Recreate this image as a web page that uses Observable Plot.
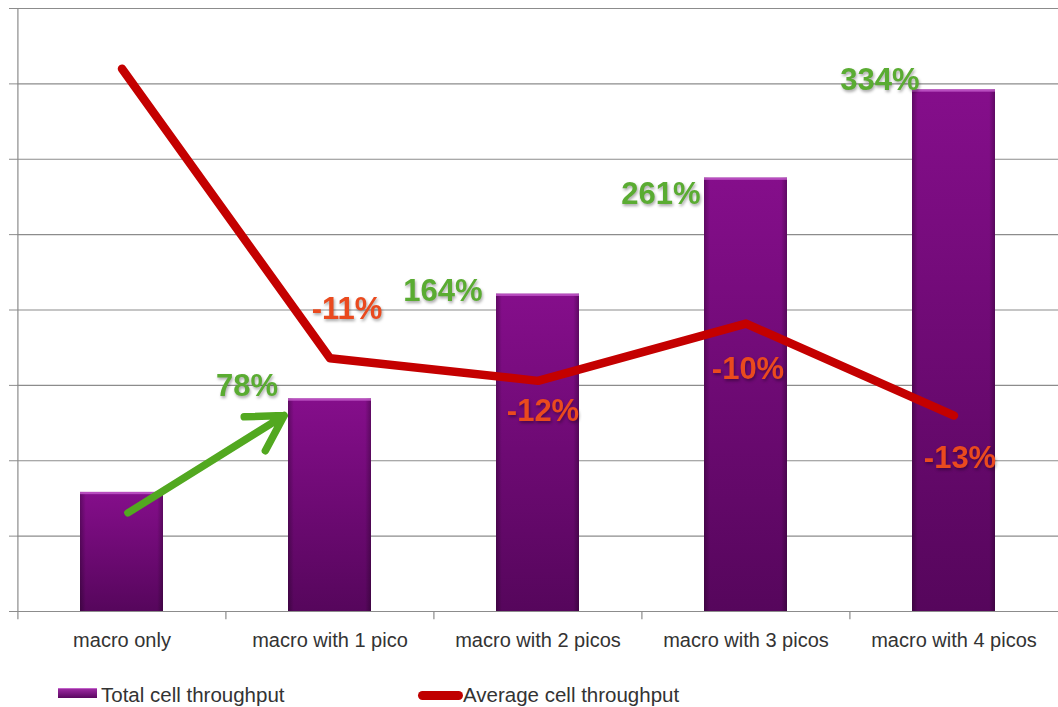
<!DOCTYPE html>
<html><head><meta charset="utf-8">
<script src="https://cdn.jsdelivr.net/npm/d3@7"></script>
<script src="https://cdn.jsdelivr.net/npm/@observablehq/plot@0.6"></script>
<style>
body{margin:0;background:#fff;font-family:"Liberation Sans",Arial,sans-serif;}
#legend{position:relative;height:47px;width:1058px;color:#333;font-size:20.5px;line-height:20px;}
#legend .sw{position:absolute;}
#legend .lb{position:absolute;white-space:nowrap;}
</style></head><body>
<svg width="0" height="0" style="position:absolute"><defs>
<linearGradient id="barV" x1="0" y1="0" x2="0" y2="1">
<stop offset="0" stop-color="#850e8b"/><stop offset="1" stop-color="#56065c"/></linearGradient>
<linearGradient id="barH" x1="0" y1="0" x2="1" y2="0">
<stop offset="0" stop-color="#000" stop-opacity="0.28"/><stop offset="0.07" stop-color="#000" stop-opacity="0"/>
<stop offset="0.93" stop-color="#000" stop-opacity="0"/><stop offset="1" stop-color="#000" stop-opacity="0.28"/></linearGradient>
</defs></svg>
<div id="chart"></div>
<div id="legend">
  <div class="sw" style="left:58px;top:28px;width:39px;height:10px;background:linear-gradient(#9a2aa0,#5a0760);border-top:1px solid #c060c8;box-sizing:border-box"></div>
  <span class="lb" style="left:101px;top:25px">Total cell throughput</span>
  <div class="sw" style="left:418px;top:31px;width:45px;height:9px;border-radius:5px;background:#c00000"></div>
  <span class="lb" style="left:463px;top:25px">Average cell throughput</span>
</div>
<script>
// ---- data (chart units: one gridline step = 1) ----
const categories = ["macro only", "macro with 1 pico", "macro with 2 picos", "macro with 3 picos", "macro with 4 picos"];
const totalThroughput = [1.58, 2.82, 4.21, 5.75, 6.92];
const averageThroughput = [7.2, 3.36, 3.06, 3.82, 2.60];
const gainLabels = ["78%", "164%", "261%", "334%"];       // vs macro only, categories 2..5
const avgChangeLabels = ["-11%", "-12%", "-10%", "-13%"]; // categories 2..5
const yTicks = [0, 1, 2, 3, 4, 5, 6, 7, 8];
const arrowAnnotation = [{from: "macro only", to: "macro with 1 pico", y1: 1.26, y2: 2.98}];

const totals = categories.map((c, i) => ({cat: c, v: totalThroughput[i]}));
const avgs = categories.map((c, i) => ({cat: c, v: averageThroughput[i]}));

// ---- layout ----
const W = 1058, H = 660, ML = 17, MR = 0, MT = 8, MB = 49;
const step = (W - ML - MR) / categories.length;
const greenOff = [[-83, -13], [-95, -3], [-85, 16], [-74, -10]];
const redOff = [[17, -49], [5, 30], [2, 46], [6, 43]];

const labelFont = {fontSize: 31, fontWeight: "bold", fontFamily: "Liberation Sans, Arial, sans-serif"};

const chart = Plot.plot({
  width: W, height: H,
  marginLeft: ML, marginRight: MR, marginTop: MT, marginBottom: MB,
  style: {fontFamily: "Liberation Sans, Arial, sans-serif", background: "#fff"},
  x: {type: "band", domain: categories, paddingInner: 0.6, paddingOuter: 0.3, label: null},
  y: {domain: [0, 8], label: null},
  marks: [
    Plot.ruleY(yTicks, {stroke: "#8c8c8c", strokeWidth: 1.2}),
    Plot.axisY({ticks: yTicks, tickSize: 8, tickFormat: () => "", stroke: "#8c8c8c", label: null}),
    Plot.ruleX([categories[0]], {dx: -step / 2, y1: -0.11, y2: 8, stroke: "#8c8c8c", strokeWidth: 1.2}),
    Plot.ruleX(categories.slice(1), {dx: -step / 2, y1: 0, y2: -0.11, stroke: "#8c8c8c", strokeWidth: 1.2}),
    Plot.axisX({tickSize: 0, tickPadding: 21, fontSize: 20, fill: "#333", label: null}),
    Plot.barY(totals, {x: "cat", y: "v", fill: "url(#barV)"}),
    Plot.barY(totals, {x: "cat", y: "v", fill: "url(#barH)"}),
    Plot.barY(totals, {x: "cat", y1: d => d.v - 0.03, y2: "v", fill: "#c45ccc", fillOpacity: 0.8}),
    Plot.lineY(avgs, {x: "cat", y: "v", stroke: "#c40000", strokeWidth: 8.5, strokeLinecap: "round", strokeLinejoin: "round"}),
    Plot.arrow(arrowAnnotation, {x1: "from", y1: "y1", x2: "to", y2: "y2", stroke: "#52a820", strokeWidth: 7.5,
      headLength: 8, insetStart: 7, insetEnd: 54}),
    ...gainLabels.map((t, i) => Plot.text([totals[i + 1]], {x: "cat", y: "v", text: () => t,
      dx: greenOff[i][0], dy: greenOff[i][1], fill: "#5aac32", ...labelFont})),
    ...avgChangeLabels.map((t, i) => Plot.text([avgs[i + 1]], {x: "cat", y: "v", text: () => t,
      dx: redOff[i][0], dy: redOff[i][1], fill: "#ea4a1e", ...labelFont}))
  ]
});
d3.select(chart).selectAll('g[aria-label="text"]').style("filter", "drop-shadow(1px 2px 1.5px rgba(0,0,0,0.35))");
document.getElementById("chart").appendChild(chart);
</script>
</body></html>
